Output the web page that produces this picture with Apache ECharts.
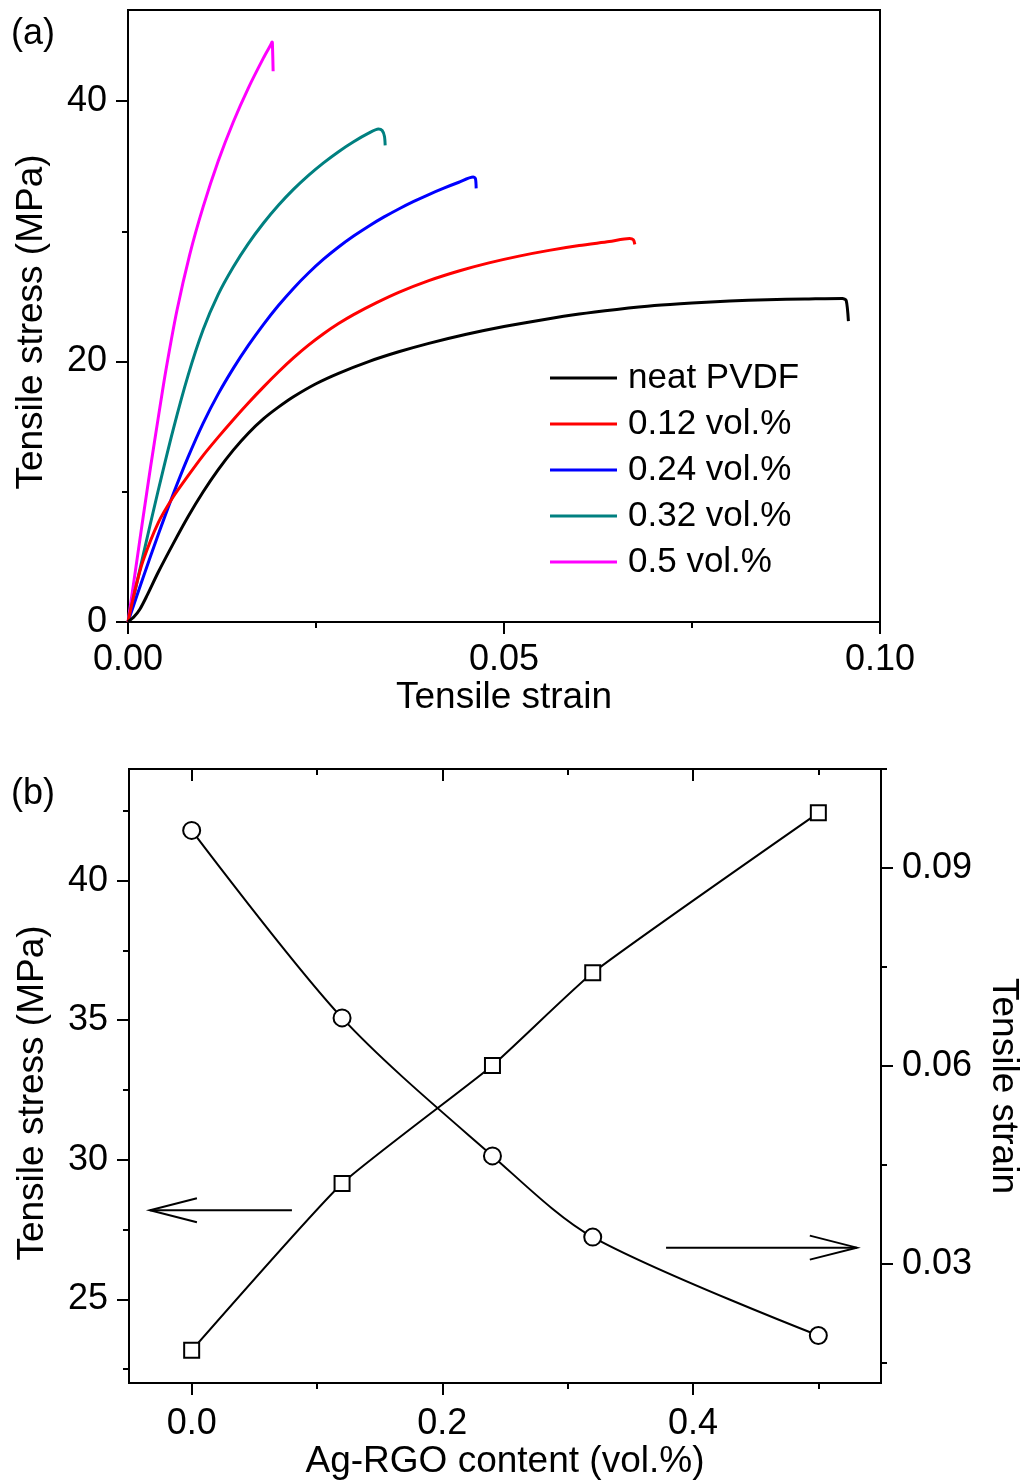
<!DOCTYPE html>
<html>
<head>
<meta charset="utf-8">
<script src="https://cdn.jsdelivr.net/npm/echarts@6/dist/echarts.min.js"></script>
<style>
html,body{margin:0;padding:0;background:#fff;}
#c{width:1026px;height:1483px;}
</style>
</head>
<body>
<div id="c"></div>
<script>
// ---------- Panel (a): stress-strain curves [strain, stress MPa] ----------
const seriesNamesA = ['neat PVDF', '0.12 vol.%', '0.24 vol.%', '0.32 vol.%', '0.5 vol.%'];
const curveNeat = [[0,0],[0.0008,0.4],[0.0016,1.0],[0.0025,2.0],[0.004,3.8],[0.006,6.0],[0.008,8.1],[0.010,10.0],[0.012,11.7],[0.014,13.2],[0.016,14.5],[0.018,15.6],[0.020,16.5],[0.022,17.3],[0.025,18.3],[0.028,19.1],[0.032,20.0],[0.036,20.75],[0.040,21.4],[0.045,22.1],[0.050,22.7],[0.055,23.2],[0.060,23.65],[0.065,24.0],[0.070,24.3],[0.075,24.5],[0.080,24.65],[0.085,24.75],[0.090,24.8],[0.0950,24.85],[0.0955,24.7],[0.0958,23.1]];
const curve012 = [[0,0],[0.001,2.6],[0.002,4.7],[0.004,7.6],[0.006,9.6],[0.008,11.24],[0.010,12.8],[0.012,14.2],[0.014,15.54],[0.016,16.82],[0.018,18.04],[0.020,19.2],[0.022,20.28],[0.024,21.26],[0.026,22.14],[0.028,22.92],[0.030,23.61],[0.033,24.51],[0.036,25.32],[0.040,26.22],[0.044,26.96],[0.048,27.58],[0.052,28.1],[0.056,28.54],[0.060,28.91],[0.064,29.22],[0.0667,29.45],[0.0672,29.35],[0.0674,29.0]];
const curve024 = [[0,0],[0.002,3.4],[0.004,6.68],[0.006,9.8],[0.008,12.68],[0.010,15.28],[0.012,17.52],[0.014,19.48],[0.016,21.24],[0.018,22.84],[0.020,24.3],[0.022,25.62],[0.024,26.8],[0.026,27.86],[0.028,28.8],[0.030,29.64],[0.032,30.4],[0.034,31.09],[0.036,31.72],[0.038,32.3],[0.040,32.83],[0.042,33.32],[0.044,33.77],[0.0459,34.17],[0.0462,34.05],[0.0463,33.3]];
const curve032 = [[0,0],[0.002,5.1],[0.004,10.06],[0.006,14.76],[0.008,18.96],[0.010,22.46],[0.012,25.16],[0.014,27.26],[0.016,29.06],[0.018,30.62],[0.020,32.0],[0.022,33.22],[0.024,34.3],[0.026,35.26],[0.028,36.12],[0.030,36.88],[0.032,37.54],[0.0333,37.86],[0.0338,37.75],[0.0341,37.3],[0.0342,36.6]];
const curve05 = [[0,0],[0.001,4.0],[0.002,8.0],[0.003,11.9],[0.004,15.6],[0.005,19.2],[0.0065,23.9],[0.0082,28.2],[0.010,31.9],[0.012,35.4],[0.014,38.4],[0.016,41.0],[0.018,43.3],[0.0190,44.35],[0.01915,44.55],[0.0192,44.5],[0.0193,42.3]];
const colorsA = ['#000000', '#ff0000', '#0000ff', '#008080', '#ff00ff'];

// ---------- Panel (b) ----------
const contentB = [0, 0.12, 0.24, 0.32, 0.5];
const stressB = [23.17, 29.15, 33.38, 36.7, 42.43];      // squares, left axis
const strainB = [0.0957, 0.0673, 0.0464, 0.0341, 0.0192]; // circles, right axis

// tick values
const xTicksA = [0, 0.05, 0.1];
const xMinorA = [0.025, 0.075];
const yTicksA = [0, 20, 40];
const yMinorA = [10, 30];
const xTicksB = [0, 0.2, 0.4];
const xMinorB = [0.1, 0.3, 0.5];
const yTicksB = [25, 30, 35, 40];
const yMinorB = [22.5, 27.5, 32.5, 37.5, 42.5];
const y2TicksB = [0.03, 0.06, 0.09];
const y2MinorB = [0.015, 0.045, 0.075, 0.105];

// arrow annotations in (content, left-axis stress) coordinates: [from, to(tip)]
const arrowLeft = [[0.080, 28.19], [-0.0333, 28.19]];
const arrowRight = [[0.3785, 26.85], [0.5307, 26.85]];

const FONT = "'Liberation Sans', Arial, sans-serif";
const LBL = 36;
const TTL = 37;
const black = '#000';

function majorAxisCommon(extra) {
  return Object.assign({
    axisLine: {show: true, onZero: false, lineStyle: {color: black, width: 2}},
    splitLine: {show: false},
    axisLabel: {color: black, fontSize: LBL, fontFamily: FONT},
    nameTextStyle: {color: black, fontSize: TTL, fontFamily: FONT}
  }, extra);
}
function minorAxis(type, gridIndex, min, max, pos, vals, len, inside) {
  return {
    type: 'value', gridIndex: gridIndex, min: min, max: max, position: pos,
    axisLine: {show: false, onZero: false},
    splitLine: {show: false},
    axisLabel: {show: false},
    axisTick: {show: true, inside: !!inside, length: len, customValues: vals, lineStyle: {color: black, width: 2}}
  };
}

const chart = echarts.init(document.getElementById('c'), null, {renderer: 'canvas'});

const seriesA = [curveNeat, curve012, curve024, curve032, curve05].map((d, i) => ({
  name: seriesNamesA[i], type: 'line', xAxisIndex: 0, yAxisIndex: 0,
  data: d, showSymbol: false, symbol: 'none', smooth: 0.25,
  lineStyle: {color: colorsA[i], width: 3}, itemStyle: {color: colorsA[i]},
  z: 10 - i
}));

const option = {
  animation: false,
  backgroundColor: '#fff',
  textStyle: {fontFamily: FONT},
  title: [
    {text: '(a)', left: 6, top: 11, textStyle: {fontSize: 36, fontWeight: 'normal', color: black, fontFamily: FONT}},
    {text: '(b)', left: 6, top: 771, textStyle: {fontSize: 36, fontWeight: 'normal', color: black, fontFamily: FONT}}
  ],
  legend: {
    data: seriesNamesA, orient: 'vertical', left: 545, top: 353,
    itemWidth: 67, itemHeight: 3, itemGap: 6, icon: 'rect', selectedMode: false,
    textStyle: {fontSize: 35, color: black, fontFamily: FONT, lineHeight: 40, padding: [0, 0, 0, 6]}
  },
  grid: [
    {left: 128, top: 10, width: 752, height: 612, show: true, borderColor: black, borderWidth: 2, backgroundColor: 'transparent', containLabel: false, outerBoundsMode: 'none'},
    {left: 129, top: 769, width: 752, height: 614, show: true, borderColor: black, borderWidth: 2, backgroundColor: 'transparent', containLabel: false, outerBoundsMode: 'none'}
  ],
  xAxis: [
    majorAxisCommon({
      type: 'value', gridIndex: 0, min: 0, max: 0.1, position: 'bottom',
      name: 'Tensile strain', nameLocation: 'middle', nameGap: 57,
      axisTick: {show: true, length: 12, customValues: xTicksA, lineStyle: {color: black, width: 2}},
      axisLabel: {color: black, fontSize: LBL, fontFamily: FONT, margin: 20, customValues: xTicksA, formatter: v => v.toFixed(2)}
    }),
    minorAxis('x', 0, 0, 0.1, 'bottom', xMinorA, 6, false),
    majorAxisCommon({
      type: 'value', gridIndex: 1, min: -0.05, max: 0.55, position: 'bottom',
      name: 'Ag-RGO content (vol.%)', nameLocation: 'middle', nameGap: 55,
      axisTick: {show: true, length: 12, customValues: xTicksB, lineStyle: {color: black, width: 2}},
      axisLabel: {color: black, fontSize: LBL, fontFamily: FONT, margin: 23, customValues: xTicksB, formatter: v => v.toFixed(1)}
    }),
    minorAxis('x', 1, -0.05, 0.55, 'bottom', xMinorB, 6, false),
    minorAxis('x', 1, -0.05, 0.55, 'top', xTicksB, 12, true),
    minorAxis('x', 1, -0.05, 0.55, 'top', xMinorB, 6, true)
  ],
  yAxis: [
    majorAxisCommon({
      type: 'value', gridIndex: 0, min: 0, max: 47, position: 'left',
      name: 'Tensile stress (MPa)', nameLocation: 'middle', nameGap: 78, nameRotate: 90,
      nameTextStyle: {color: black, fontSize: TTL, fontFamily: FONT, padding: [0, 12, 0, 0]},
      axisTick: {show: true, length: 12, customValues: yTicksA, lineStyle: {color: black, width: 2}},
      axisLabel: {color: black, fontSize: LBL, fontFamily: FONT, margin: 21, customValues: yTicksA}
    }),
    minorAxis('y', 0, 0, 47, 'left', yMinorA, 6, false),
    majorAxisCommon({
      type: 'value', gridIndex: 1, min: 22, max: 44, position: 'left',
      name: 'Tensile stress (MPa)', nameLocation: 'middle', nameGap: 78, nameRotate: 90,
      nameTextStyle: {color: black, fontSize: TTL, fontFamily: FONT, padding: [0, 34, 0, 0]},
      axisTick: {show: true, length: 12, customValues: yTicksB, lineStyle: {color: black, width: 2}},
      axisLabel: {color: black, fontSize: LBL, fontFamily: FONT, margin: 21, customValues: yTicksB}
    }),
    minorAxis('y', 1, 22, 44, 'left', yMinorB, 6, false),
    majorAxisCommon({
      type: 'value', gridIndex: 1, min: 0.012, max: 0.105, position: 'right',
      name: 'Tensile strain', nameLocation: 'middle', nameGap: 104, nameRotate: -90,
      nameTextStyle: {color: black, fontSize: TTL, fontFamily: FONT, padding: [0, 0, 0, 20]},
      axisTick: {show: true, length: 12, customValues: y2TicksB, lineStyle: {color: black, width: 2}},
      axisLabel: {color: black, fontSize: LBL, fontFamily: FONT, margin: 21, customValues: y2TicksB, formatter: v => v.toFixed(2)}
    }),
    minorAxis('y', 1, 0.012, 0.105, 'right', y2MinorB, 6, false)
  ],
  series: seriesA.concat([
    {
      name: 'Tensile stress', type: 'line', xAxisIndex: 2, yAxisIndex: 2,
      data: contentB.map((c, i) => [c, stressB[i]]),
      symbol: 'rect', symbolSize: 15, smooth: 0.15,
      lineStyle: {color: black, width: 2},
      itemStyle: {color: '#fff', borderColor: black, borderWidth: 2}, z: 5
    },
    {
      name: 'Tensile strain', type: 'line', xAxisIndex: 2, yAxisIndex: 4,
      data: contentB.map((c, i) => [c, strainB[i]]),
      symbol: 'circle', symbolSize: 17, smooth: 0.3,
      lineStyle: {color: black, width: 2},
      itemStyle: {color: '#fff', borderColor: black, borderWidth: 2}, z: 5
    }
  ])
};
chart.setOption(option);

function arrowGraphic(arr) {
  const p0 = chart.convertToPixel({xAxisIndex: 2, yAxisIndex: 2}, arr[0]);
  const p1 = chart.convertToPixel({xAxisIndex: 2, yAxisIndex: 2}, arr[1]);
  const dir = Math.sign(p1[0] - p0[0]);
  const hl = 47, hw = 12;
  return [
    {type: 'line', shape: {x1: p0[0], y1: p0[1], x2: p1[0], y2: p1[1]}, style: {stroke: black, lineWidth: 2}, z: 100},
    {type: 'polyline', shape: {points: [[p1[0] - dir * hl, p1[1] - hw], [p1[0], p1[1]], [p1[0] - dir * hl, p1[1] + hw]]}, style: {stroke: black, lineWidth: 2, fill: null}, z: 100}
  ];
}
chart.setOption({graphic: arrowGraphic(arrowLeft).concat(arrowGraphic(arrowRight))});
</script>
</body>
</html>
